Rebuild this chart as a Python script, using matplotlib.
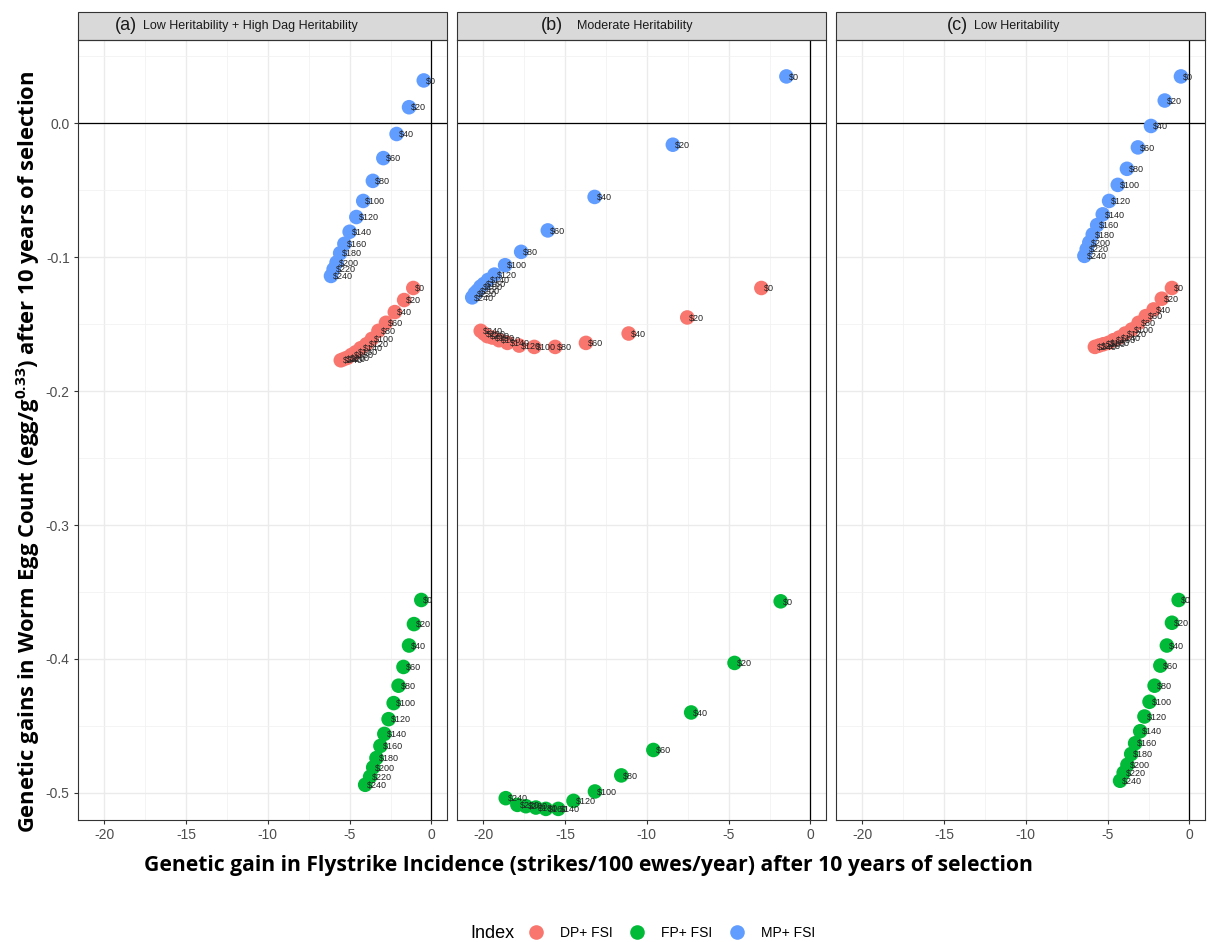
import matplotlib.pyplot as plt
from matplotlib.patches import Rectangle
from matplotlib.lines import Line2D
from matplotlib.ticker import MultipleLocator

plt.rcParams['font.family'] = ['Liberation Sans', 'DejaVu Sans']
plt.rcParams['mathtext.fontset'] = 'custom'
plt.rcParams['mathtext.rm'] = 'Open Sans'
plt.rcParams['mathtext.bf'] = 'Open Sans:bold'

# dollar weighting on FSI in each index
costs = ['$0', '$20', '$40', '$60', '$80', '$100', '$120',
         '$140', '$160', '$180', '$200', '$220', '$240']

# (a) low heritability + high dag heritability
a_dp_x = [-1.11, -1.67, -2.24, -2.78, -3.24, -3.64, -3.97, -4.33, -4.63, -4.89, -5.12, -5.34, -5.54]
a_dp_y = [-0.123, -0.132, -0.141, -0.149, -0.155, -0.161, -0.165, -0.168, -0.171, -0.173, -0.175, -0.176, -0.177]
a_fp_x = [-0.62, -1.07, -1.37, -1.71, -2.01, -2.31, -2.62, -2.88, -3.12, -3.36, -3.56, -3.75, -4.05]
a_fp_y = [-0.356, -0.374, -0.390, -0.406, -0.420, -0.433, -0.445, -0.456, -0.465, -0.474, -0.481, -0.488, -0.494]
a_mp_x = [-0.47, -1.37, -2.13, -2.94, -3.58, -4.17, -4.59, -5.00, -5.32, -5.58, -5.80, -5.98, -6.14]
a_mp_y = [0.032, 0.012, -0.008, -0.026, -0.043, -0.058, -0.070, -0.081, -0.090, -0.097, -0.104, -0.109, -0.114]

# (b) moderate heritability
b_dp_x = [-3.00, -7.53, -11.11, -13.72, -15.60, -16.88, -17.80, -18.52, -19.03, -19.44, -19.74, -19.95, -20.15]
b_dp_y = [-0.123, -0.145, -0.157, -0.164, -0.167, -0.167, -0.166, -0.164, -0.162, -0.160, -0.159, -0.157, -0.155]
b_fp_x = [-1.82, -4.64, -7.29, -9.60, -11.56, -13.17, -14.48, -15.41, -16.17, -16.78, -17.39, -17.91, -18.62]
b_fp_y = [-0.357, -0.403, -0.440, -0.468, -0.487, -0.499, -0.506, -0.512, -0.512, -0.511, -0.510, -0.509, -0.504]
b_mp_x = [-1.47, -8.41, -13.19, -16.05, -17.68, -18.66, -19.31, -19.70, -19.96, -20.16, -20.35, -20.51, -20.67]
b_mp_y = [0.035, -0.016, -0.055, -0.080, -0.096, -0.106, -0.113, -0.117, -0.120, -0.122, -0.125, -0.127, -0.130]

# (c) low heritability
c_dp_x = [-1.07, -1.69, -2.19, -2.67, -3.11, -3.53, -3.93, -4.30, -4.65, -4.96, -5.26, -5.53, -5.78]
c_dp_y = [-0.123, -0.131, -0.139, -0.144, -0.149, -0.154, -0.157, -0.160, -0.162, -0.164, -0.165, -0.166, -0.167]
c_fp_x = [-0.66, -1.07, -1.38, -1.78, -2.13, -2.44, -2.75, -3.01, -3.32, -3.56, -3.79, -4.02, -4.24]
c_fp_y = [-0.356, -0.373, -0.390, -0.405, -0.420, -0.432, -0.443, -0.454, -0.463, -0.471, -0.479, -0.485, -0.491]
c_mp_x = [-0.52, -1.51, -2.35, -3.15, -3.82, -4.38, -4.91, -5.30, -5.64, -5.91, -6.12, -6.28, -6.42]
c_mp_y = [0.035, 0.017, -0.002, -0.018, -0.034, -0.046, -0.058, -0.068, -0.076, -0.083, -0.089, -0.094, -0.099]

index_names = ['DP+ FSI', 'FP+ FSI', 'MP+ FSI']
index_cols = ['#F8766D', '#00BA38', '#619CFF']

panels = [
    ('(a)', 'Low Heritability + High Dag Heritability', 0.160, 0.175,
     [(a_dp_x, a_dp_y), (a_fp_x, a_fp_y), (a_mp_x, a_mp_y)]),
    ('(b)', 'Moderate Heritability', 0.287, 0.325,
     [(b_dp_x, b_dp_y), (b_fp_x, b_fp_y), (b_mp_x, b_mp_y)]),
    ('(c)', 'Low Heritability', 0.358, 0.374,
     [(c_dp_x, c_dp_y), (c_fp_x, c_fp_y), (c_mp_x, c_mp_y)]),
]

fig = plt.figure(figsize=(12.08, 9.42), dpi=100)
W, H = 1208, 942
lefts = [78, 457, 836]
pw = 369
ptop, pbot = 40, 820

for i, (tag, title, tag_x, title_x, series) in enumerate(panels):
    ax = fig.add_axes([lefts[i] / W, (H - pbot) / H, pw / W, (pbot - ptop) / H])
    ax.set_xlim(-21.6, 0.95)
    ax.set_ylim(-0.5203, 0.0622)
    ax.xaxis.set_major_locator(MultipleLocator(5))
    ax.xaxis.set_minor_locator(MultipleLocator(2.5))
    ax.yaxis.set_major_locator(MultipleLocator(0.1))
    ax.yaxis.set_minor_locator(MultipleLocator(0.05))
    ax.grid(which='major', color='#EBEBEB', lw=1.0)
    ax.grid(which='minor', color='#F2F2F2', lw=0.6)
    ax.set_axisbelow(True)
    for sp in ax.spines.values():
        sp.set_color('#333333')
        sp.set_linewidth(0.8)
    ax.tick_params(which='both', length=0)
    ax.tick_params(which='major', length=3, color='#333333', labelsize=10,
                   labelcolor='#4D4D4D', pad=3)
    ax.set_xticklabels([f'{int(v)}' for v in ax.get_xticks()])
    if i == 0:
        ax.yaxis.set_major_formatter(plt.FuncFormatter(lambda v, p: f'{v:.1f}'))
    else:
        ax.tick_params(axis='y', which='major', length=0, labelleft=False)

    ax.axhline(0, color='black', lw=0.9, zorder=1)
    ax.axvline(0, color='black', lw=0.9, zorder=1)

    for (xs, ys), col in zip(series, index_cols):
        ax.scatter(xs, ys, s=110, color=col, edgecolors='none', zorder=2)
        for x, y, lab in zip(xs, ys, costs):
            ax.annotate(lab.replace('$', r'\$'), (x, y), xytext=(1.5, -0.5),
                        textcoords='offset points', fontsize=6.5,
                        color='#222222', ha='left', va='center', zorder=3)

    # facet strip
    sh = 28 / (pbot - ptop)
    ax.add_patch(Rectangle((0, 1), 1, sh, transform=ax.transAxes,
                           facecolor='#D9D9D9', edgecolor='#333333', lw=0.8,
                           clip_on=False))
    ax.text(tag_x, 1 + sh / 2, tag, transform=ax.transAxes, ha='right',
            va='center', fontsize=13, color='#1A1A1A')
    ax.text(title_x, 1 + sh / 2, title, transform=ax.transAxes, ha='left',
            va='center', fontsize=9, color='#1A1A1A')

fig.text(588 / W, (H - 866) / H,
         'Genetic gain in Flystrike Incidence (strikes/100 ewes/year) after 10 years of selection',
         ha='center', va='center', fontsize=15.2, fontweight='bold',
         family=['Open Sans', 'DejaVu Sans'])
fig.text(28 / W, (H - 452) / H,
         r'Genetic gains in Worm Egg Count (egg/g$^{\mathbf{0.33}}$) after 10 years of selection',
         ha='center', va='center', rotation=90, fontsize=15.8, fontweight='bold',
         family=['Open Sans', 'DejaVu Sans'])

# legend along the bottom
fig.text(470 / W, (H - 933) / H, 'Index', ha='left', va='center', fontsize=13)
handles = [Line2D([], [], marker='o', ls='none', ms=10.5, color=c, mec='none')
           for c in index_cols]
fig.legend(handles, index_names, loc='center left',
           bbox_to_anchor=(529 / W, (H - 933) / H), ncol=3, frameon=False,
           fontsize=10, handletextpad=1.2, columnspacing=1.3,
           handlelength=1.0, borderpad=0, borderaxespad=0)

fig.savefig('out.png', dpi=100)
